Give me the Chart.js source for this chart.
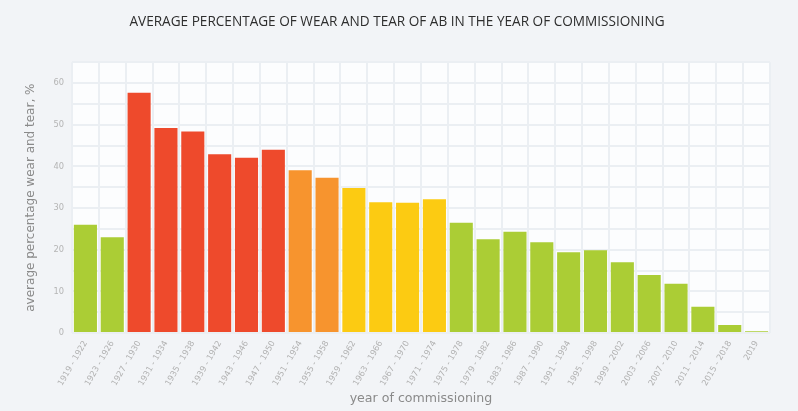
<!DOCTYPE html>
<html>
<head>
<meta charset="utf-8">
<script src="https://cdn.jsdelivr.net/npm/chart.js@4"></script>
<style>
  html, body { margin: 0; padding: 0; background: #f2f4f7; }
  #wrap { width: 798px; height: 411px; }
</style>
</head>
<body>
<div id="wrap"><canvas id="c" width="798" height="411"></canvas></div>
<script>
const categories = ["1919 - 1922","1923 - 1926","1927 - 1930","1931 - 1934","1935 - 1938","1939 - 1942","1943 - 1946","1947 - 1950","1951 - 1954","1955 - 1958","1959 - 1962","1963 - 1966","1967 - 1970","1971 - 1974","1975 - 1978","1979 - 1982","1983 - 1986","1987 - 1990","1991 - 1994","1995 - 1998","1999 - 2002","2003 - 2006","2007 - 2010","2011 - 2014","2015 - 2018","2019"];
const wearValues = [26, 23, 57.7, 49.2, 48.4, 42.9, 42.1, 44.0, 39.1, 37.3, 34.8, 31.4, 31.3, 32.1, 26.5, 22.5, 24.3, 21.8, 19.4, 19.9, 17.0, 13.9, 11.8, 6.3, 1.9, 0.4];
const colorGroups = ["g","g","r","r","r","r","r","r","o","o","y","y","y","y","g","g","g","g","g","g","g","g","g","g","g","g"];
const palette = { g: "#abcd35", r: "#ee4a2c", o: "#f7942e", y: "#fccb12" };
const chartTitle = "AVERAGE PERCENTAGE OF WEAR AND TEAR OF AB IN THE YEAR OF COMMISSIONING";
const yTitle = "average percentage wear and tear, %";
const xTitle = "year of commissioning";

const plotBg = {
  id: 'plotBg',
  beforeDraw(chart) {
    const {ctx, chartArea: a} = chart;
    ctx.save();
    ctx.fillStyle = '#fcfdfe';
    ctx.fillRect(a.left, a.top, a.right - a.left, a.bottom - a.top);
    ctx.restore();
  }
};

new Chart(document.getElementById('c'), {
  type: 'bar',
  data: {
    labels: categories,
    datasets: [{
      data: wearValues,
      backgroundColor: colorGroups.map(k => palette[k]),
      borderWidth: 0,
      barPercentage: 0.86,
      categoryPercentage: 1.0
    }]
  },
  plugins: [plotBg],
  options: {
    responsive: false,
    animation: false,
    devicePixelRatio: 1,
    layout: { padding: { left: 24, right: 28, bottom: 2, top: 0 } },
    plugins: {
      legend: { display: false },
      tooltip: { enabled: false },
      title: {
        display: true,
        text: chartTitle,
        color: '#2e2e2e',
        font: { family: '"Open Sans", sans-serif', size: 13.6, weight: 'normal' },
        padding: { top: 14, bottom: 32 }
      }
    },
    scales: {
      x: {
        grid: { color: '#ebeff3', lineWidth: 2, drawTicks: false, offset: true },
        border: { display: false },
        ticks: {
          color: '#b0b0b0',
          font: { family: '"DejaVu Sans", sans-serif', size: 8.3 },
          minRotation: 60, maxRotation: 60, padding: 6, autoSkip: false
        },
        title: {
          display: true, text: xTitle, color: '#8a8a8a',
          font: { family: '"DejaVu Sans", sans-serif', size: 12.6 },
          padding: { top: 0, bottom: 3 }
        },
        afterFit(s) { s.height = 76; }
      },
      y: {
        min: 0, max: 65,
        grid: { color: '#ebeff3', lineWidth: 2, drawTicks: false },
        border: { display: false },
        ticks: {
          stepSize: 5, color: '#b5b5b5', padding: 8,
          font: { family: '"DejaVu Sans", sans-serif', size: 8.3 },
          callback: v => (v % 10 === 0 ? v : '')
        },
        title: {
          display: true, text: yTitle, color: '#8a8a8a',
          font: { family: '"DejaVu Sans", sans-serif', size: 12 },
          padding: { top: 0, bottom: 4 }
        },
        afterFit(s) { s.width = 48; }
      }
    }
  }
});
</script>
</body>
</html>
